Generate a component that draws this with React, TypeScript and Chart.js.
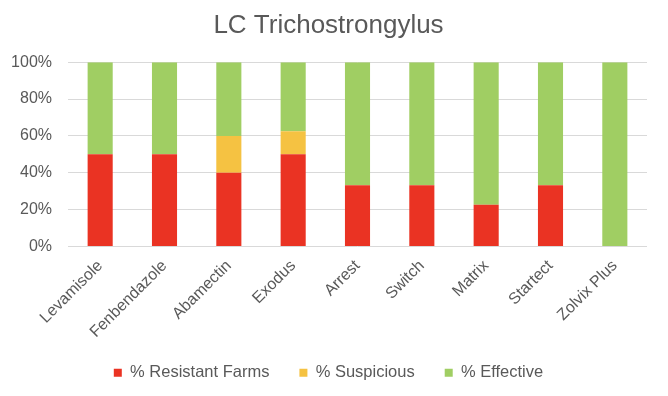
import React, { useEffect, useRef } from "react";
import { Chart, registerables } from "chart.js";

Chart.register(...registerables);

const categories = ["Levamisole", "Fenbendazole", "Abamectin", "Exodus", "Arrest", "Switch", "Matrix", "Startect", "Zolvix Plus"];
const resistant = [50, 50, 40, 50, 33.3, 33.3, 22.7, 33.3, 0];
const suspicious = [0, 0, 20, 12.5, 0, 0, 0, 0, 0];
const effective = [50, 50, 40, 37.5, 66.7, 66.7, 77.3, 66.7, 100];
const seriesNames = ["% Resistant Farms", "% Suspicious", "% Effective"];
const chartTitle = "LC Trichostrongylus";

const FONT = "'Liberation Sans', Arial, sans-serif";
const TEXT = "#595959";

export default function App() {
  const ref = useRef<HTMLCanvasElement>(null);
  useEffect(() => {
    document.body.style.margin = "0";
    const colors = ["#EA3323", "#F5C242", "#A0CE63"];
    const data = [resistant, suspicious, effective];
    const chart = new Chart(ref.current!, {
      type: "bar",
      data: {
        labels: categories,
        datasets: seriesNames.map((name, i) => ({
          label: name,
          data: data[i],
          backgroundColor: colors[i],
          borderWidth: 0,
          categoryPercentage: 1,
          barPercentage: 0.39,
        })),
      },
      options: {
        responsive: false,
        animation: false,
        maintainAspectRatio: false,
        layout: { padding: { left: 10, right: 21, top: 0, bottom: 5 } },
        plugins: {
          title: {
            display: true,
            text: chartTitle,
            color: TEXT,
            font: { family: FONT, size: 26, weight: "normal" },
            padding: { top: 10, bottom: 21 },
          },
          legend: {
            position: "bottom",
            labels: {
              color: TEXT,
              font: { family: FONT, size: 16.5 },
              boxWidth: 8,
              boxHeight: 8,
              padding: 30,
            },
          },
          tooltip: { enabled: false },
        },
        scales: {
          x: {
            stacked: true,
            afterFit: (scale: any) => {
              scale.height = 88;
              scale._computeLabelArea = () => undefined;
            },
            grid: { display: false },
            border: { display: false },
            ticks: {
              color: TEXT,
              font: { family: FONT, size: 16 },
              maxRotation: 45,
              minRotation: 45,
              padding: 2,
            },
          },
          y: {
            stacked: true,
            min: 0,
            max: 100,
            afterFit: (scale: any) => {
              scale.width = 58;
            },
            grid: { color: "#D9D9D9", lineWidth: 1, drawTicks: false },
            border: { display: false },
            ticks: {
              stepSize: 10,
              color: TEXT,
              font: { family: FONT, size: 16 },
              padding: 16,
              callback: (v: any) => (Number(v) % 20 === 0 ? v + "%" : ""),
            },
          },
        },
      },
    });
    return () => chart.destroy();
  }, []);
  return (
    <div style={{ width: 668, height: 396 }}>
      <canvas ref={ref} width={668} height={396} style={{ display: "block" }} />
    </div>
  );
}
